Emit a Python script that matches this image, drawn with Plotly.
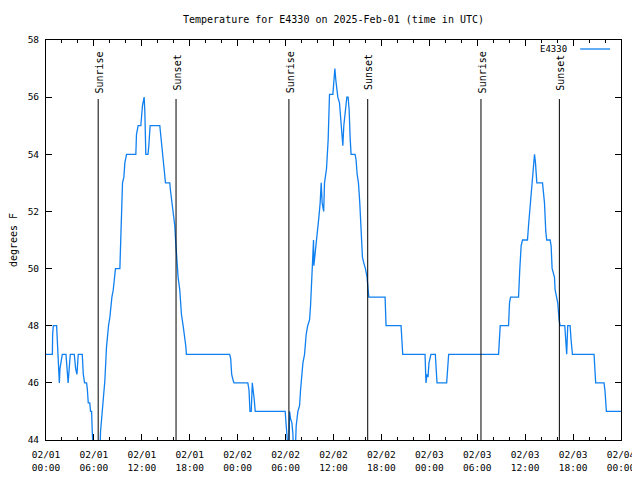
import pandas as pd
import plotly.graph_objects as go

# ---- data (hours after 2025-02-01 00:00 UTC, degrees F)
HOURS = [0.0, 0.8, 0.83, 0.92, 1.33, 1.42, 1.54, 1.67, 1.75, 1.875, 2.04, 2.5, 2.77, 3.04, 3.54, 3.71,
         3.875, 4.04, 4.54, 4.67, 4.83, 5.08, 5.17, 5.29, 5.48, 5.58, 5.71, 5.79, 5.92, 6.375, 6.75, 6.83,
         6.96, 7.17, 7.375, 7.58, 7.71, 7.83, 8.0, 8.125, 8.25, 8.42, 8.7, 9.25, 9.33, 9.42, 9.58, 9.75,
         9.875, 10.08, 11.25, 11.33, 11.54, 11.875, 11.96, 12.08, 12.29, 12.375, 12.5, 12.77, 12.875, 13.04,
         14.25, 14.46, 14.58, 14.75, 14.96, 15.5, 15.58, 15.75, 15.92, 16.125, 16.25, 16.42, 16.54, 16.75,
         16.96, 17.17, 17.375, 17.5, 17.58, 23.0, 23.125, 23.25, 23.42, 23.54, 25.27, 25.42, 25.54, 25.7,
         25.83, 25.96, 26.08, 26.2, 29.95, 30.08, 30.2, 30.33, 30.42, 30.5, 30.625, 30.79, 30.92, 31.0,
         31.2, 31.33, 31.54, 31.75, 31.875, 32.0, 32.17, 32.375, 32.58, 32.77, 33.0, 33.125, 33.25, 33.42,
         33.5, 33.54, 33.625, 33.83, 34.04, 34.17, 34.33, 34.46, 34.58, 34.77, 34.875, 34.96, 35.125, 35.33,
         35.5, 35.92, 36.04, 36.17, 36.29, 36.42, 36.54, 36.75, 36.875, 37.0, 37.17, 37.29, 37.46, 37.67,
         37.83, 37.96, 38.08, 38.2, 38.7, 38.83, 38.96, 39.125, 39.29, 39.46, 39.625, 39.79, 40.0, 40.2,
         40.29, 40.42, 42.46, 42.58, 44.46, 44.67, 47.46, 47.58, 47.7, 47.83, 47.96, 48.2, 48.75, 48.875,
         48.96, 50.17, 50.29, 50.42, 56.67, 56.75, 56.875, 57.92, 58.04, 58.17, 59.17, 59.33, 59.5, 59.67,
         60.29, 60.42, 60.58, 60.77, 61.0, 61.17, 61.29, 61.46, 62.17, 62.29, 62.42, 62.58, 62.7, 63.125,
         63.25, 63.375, 63.67, 63.75, 63.92, 64.08, 64.25, 64.375, 64.96, 65.08, 65.2, 65.33, 65.625, 65.75,
         65.92, 68.625, 68.75, 68.83, 69.875, 70.0, 70.17, 72.0]
TEMPS = [47.0, 47.0, 47.7, 48.0, 48.0, 47.3, 46.5, 46.0, 46.5, 46.8, 47.0, 47.0, 46.0, 47.0, 47.0, 46.5,
         46.3, 47.0, 47.0, 46.3, 46.0, 46.0, 45.8, 45.3, 45.3, 45.0, 45.0, 44.3, 43.5, 43.3, 43.6, 44.3,
         44.7, 45.2, 46.1, 47.27, 47.73, 48.0, 48.3, 48.8, 49.0, 49.25, 50.0, 50.0, 50.8, 52.3, 53.0, 53.2,
         53.7, 54.0, 54.0, 54.7, 55.0, 55.0, 55.3, 55.7, 56.0, 55.5, 54.0, 54.0, 54.3, 55.0,
         55.0, 54.3, 54.0, 53.6, 53.0, 53.0, 52.75, 52.3, 52.0, 51.5, 50.9, 50.2, 49.7, 49.25,
         48.4, 48.0, 47.6, 47.3, 47.0, 47.0, 46.85, 46.3, 46.1, 46.0, 46.0, 45.75, 45.0, 45.0,
         46.0, 45.75, 45.4, 45.0, 45.0, 44.5, 44.2, 43.6, 43.7, 45.0, 44.75, 44.6, 44.2, 43.5,
         43.5, 44.5, 45.0, 45.2, 45.75, 46.3, 46.7, 47.0, 47.7, 48.0, 48.2, 48.7, 49.7, 50.4,
         51.0, 50.1, 50.3, 50.9, 51.3, 51.8, 52.3, 53.0, 52.3, 52.0, 53.0, 53.2, 53.5, 54.5,
         56.1, 56.1, 56.6, 57.0, 56.6, 56.3, 56.0, 55.8, 55.3, 54.8, 54.3, 55.0, 55.55, 56.0,
         56.0, 55.55, 54.6, 54.0, 54.0, 53.8, 53.3, 53.0, 52.3, 51.2, 50.4, 50.2, 50.0, 49.7,
         49.25, 49.0, 49.0, 48.0, 48.0, 47.0, 47.0, 46.0, 46.3, 46.2, 46.7, 47.0, 47.0, 46.5,
         46.0, 46.0, 46.7, 47.0, 47.0, 47.5, 48.0, 48.0, 48.8, 49.0, 49.0, 50.0, 50.8, 51.0,
         51.0, 51.5, 52.0, 52.5, 53.5, 54.0, 53.7, 53.0, 53.0, 52.75, 52.3, 51.3, 51.0, 51.0,
         50.8, 50.0, 49.7, 49.25, 49.0, 48.8, 48.2, 48.0, 48.0, 47.3, 47.0, 48.0, 48.0, 47.5,
         47.0, 47.0, 46.5, 46.0, 46.0, 45.7, 45.0, 45.0]

SUNRISE = ["2025-02-01 06:32", "2025-02-02 06:25", "2025-02-03 06:28"]
SUNSET = ["2025-02-01 16:17", "2025-02-02 16:17", "2025-02-03 16:17"]
STATION = "E4330"
TITLE = "Temperature for E4330 on 2025-Feb-01 (time in UTC)"
Y_TITLE = "degrees F"
X_RANGE = ["2025-02-01 00:00", "2025-02-04 00:00"]
Y_RANGE = [44, 58]

FONT = "DejaVu Sans Mono"
BLUE = "rgb(16,128,240)"

# the page body has an 8px margin, so the figure is sized/offset to compensate
FIG_W, FIG_H = 632, 472

times = pd.Timestamp("2025-02-01") + pd.to_timedelta(HOURS, unit="h")

fig = go.Figure()
fig.add_trace(go.Scatter(x=times, y=TEMPS, mode="lines", line=dict(color=BLUE, width=1.3),
                         showlegend=False, hoverinfo="skip"))

shapes = []
annotations = []
for label, events in (("Sunrise", SUNRISE), ("Sunset", SUNSET)):
    for t in events:
        shapes.append(dict(type="line", xref="x", yref="paper", x0=t, x1=t, y0=0, y1=0.8525,
                           line=dict(color="black", width=1)))
        annotations.append(dict(text=label, x=t, xref="x", y=0.919, yref="paper", textangle=-90,
                                showarrow=False, xanchor="center", yanchor="middle", xshift=1,
                                font=dict(family=FONT, size=10, color="black")))

# legend drawn gnuplot-style: text then sample line
annotations.append(dict(text=STATION, x=0.909, xref="paper", y=0.9775, yref="paper", showarrow=False,
                        xanchor="right", yanchor="middle", font=dict(family=FONT, size=9, color="black")))
shapes.append(dict(type="line", xref="paper", yref="paper", x0=0.929, x1=0.981, y0=0.9775, y1=0.9775,
                   line=dict(color=BLUE, width=1.3)))

fig.update_layout(
    width=FIG_W, height=FIG_H,
    margin=dict(l=38, r=19, t=32, b=40, autoexpand=False),
    paper_bgcolor="white", plot_bgcolor="white",
    font=dict(family=FONT, size=10, color="black"),
    title=dict(text=TITLE, x=0.5, xref="paper", xanchor="center", y=1 - 11 / FIG_H, yanchor="middle",
               font=dict(family=FONT, size=10, color="black")),
    shapes=shapes, annotations=annotations,
    showlegend=False,
)
fig.update_xaxes(
    type="date", range=X_RANGE, tick0="2025-02-01", dtick=6 * 3600 * 1000, automargin=False,
    tickformat="%m/%d<br>%H:%M", ticks="inside", ticklen=6, tickcolor="black", tickwidth=1,
    showline=True, linecolor="black", linewidth=1, mirror="ticks", showgrid=False, zeroline=False,
    tickfont=dict(family=FONT, size=9.5, color="black"), ticklabelstandoff=6,
    minor=dict(dtick=2 * 3600 * 1000, ticks="inside", ticklen=3, tickcolor="black", showgrid=False),
)
fig.update_yaxes(
    range=Y_RANGE, dtick=2, ticks="inside", ticklen=6, tickcolor="black", tickwidth=1, automargin=False,
    showline=True, linecolor="black", linewidth=1, mirror="ticks", showgrid=False, zeroline=False,
    tickfont=dict(family=FONT, size=9.5, color="black"), ticklabelstandoff=4,
    title=dict(text=Y_TITLE, font=dict(family=FONT, size=10, color="black"), standoff=11),
)

fig.write_html("out.html")
